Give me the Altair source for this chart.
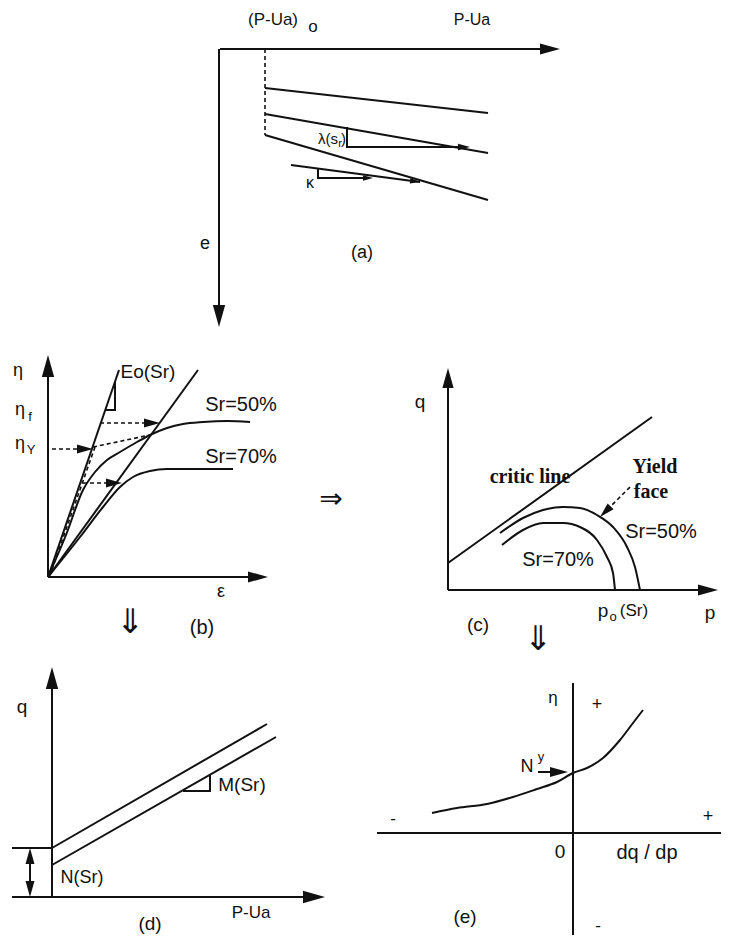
import altair as alt
import pandas as pd

# ---------------- geometry of the schematic (reference pixel units) ----------------
# Panel (a): void ratio e vs (P-Ua)
a_x_axis = [(220, 49), (548, 49)]
a_y_axis = [(219, 49), (219, 314)]
a_preload = [(265, 49), (265, 135)]
a_line_top = [(265, 88), (488, 113)]
a_line_mid = [(265, 114), (488, 153)]
a_line_low = [(265, 135), (488, 200)]
a_kappa_line = [(291, 165), (420, 182)]
a_lambda_tri = [(347, 127), (347, 147), (462, 147)]
a_kappa_tri = [(318, 169), (318, 178), (368, 178)]

# Panel (b): eta vs strain
b_y_axis = [(48, 577), (48, 370)]
b_x_axis = [(48, 577), (256, 577)]
b_E0_line = [(48, 577), (119, 370)]
b_E0_tri = [(105, 410), (115, 410), (115, 382)]
b_second_line = [(48, 577), (198, 370)]
b_sr50 = [(48, 577), (66, 535), (83, 490), (95, 472), (107, 460), (120, 452), (137, 442),
          (150, 435), (167, 428), (183, 424), (203, 422), (227, 421), (250, 422)]
b_sr70 = [(48, 577), (80, 537), (103, 507), (120, 487), (133, 477), (150, 471),
          (167, 469), (190, 469), (233, 469)]
b_dash_etaY = [(52, 449), (86, 449)]
b_dash_tangent = [(93, 447), (150, 435)]
b_dash_etaf = [(100, 423), (153, 423)]
b_dash_low = [(83, 483), (116, 483)]
b_dash_E0 = [(95, 447), (50, 575)]

# Panel (c): yield surfaces in p-q plane
c_y_axis = [(448, 590), (448, 382)]
c_x_axis = [(448, 590), (704, 590)]
c_critic = [(448, 563), (652, 417)]
c_sr50 = [(500, 533), (523, 518), (543, 510), (563, 507), (580, 508), (597, 515),
          (613, 527), (627, 547), (635, 567), (640, 590)]
c_sr70 = [(502, 545), (523, 530), (543, 523), (563, 523), (580, 527), (597, 540),
          (607, 557), (613, 573), (615, 590)]
c_dash_yield = [(630, 487), (606, 511)]

# Panel (d): q vs (P-Ua)
d_y_axis = [(52, 897), (52, 683)]
d_x_axis = [(12, 897), (310, 897)]
d_top_tick = [(12, 848), (52, 848)]
d_line_up = [(52, 848), (267, 724)]
d_line_low = [(52, 865), (276, 737)]
d_M_tri = [(183, 791), (210, 791), (210, 775)]
d_double = [(30, 856), (30, 889)]

# Panel (e): eta vs dq/dp
e_y_axis = [(573, 683), (573, 935)]
e_x_axis = [(377, 833), (721, 833)]
e_curve = [(432, 813), (457, 808), (487, 804), (513, 797), (537, 789), (557, 782),
           (573, 773), (587, 768), (603, 758), (620, 740), (633, 723), (643, 710)]
e_Ny_arrow = [(538, 772), (560, 772)]

solid_lines = {
    "a_x": a_x_axis, "a_y": a_y_axis, "a_l1": a_line_top, "a_l2": a_line_mid, "a_l3": a_line_low,
    "a_k": a_kappa_line, "a_lt": a_lambda_tri, "a_kt": a_kappa_tri,
    "b_y": b_y_axis, "b_x": b_x_axis, "b_e0": b_E0_line, "b_tri": b_E0_tri, "b_l2": b_second_line,
    "c_y": c_y_axis, "c_x": c_x_axis, "c_cr": c_critic,
    "d_y": d_y_axis, "d_x": d_x_axis, "d_t": d_top_tick, "d_l1": d_line_up, "d_l2": d_line_low,
    "d_m": d_M_tri, "d_dbl": d_double,
    "e_y": e_y_axis, "e_x": e_x_axis, "e_ny": e_Ny_arrow,
}
curve_lines = {"b_50": b_sr50, "b_70": b_sr70, "c_50": c_sr50, "c_70": c_sr70, "e_c": e_curve}
dashed_lines = {"a_pre": a_preload, "b_dY": b_dash_etaY, "b_dt": b_dash_tangent,
                "b_df": b_dash_etaf, "b_dl": b_dash_low, "b_de": b_dash_E0, "c_dy": c_dash_yield}

# arrowheads: tip x, tip y, direction (deg, clockwise from right), length px
arrow_tip_x = [560, 219, 470, 373, 420, 48, 268, 93, 160, 122, 448, 718, 600, 52, 325, 30, 30, 568]
arrow_tip_y = [49, 327, 147, 178, 182, 355, 577, 449, 423, 483, 368, 590, 517, 667, 897, 848, 897, 772]
arrow_angle = [0, 90, 0, 0, 7, 270, 0, 0, 0, 0, 270, 0, 135, 270, 0, 270, 90, 0]
arrow_len = [20, 22, 12, 10, 10, 22, 20, 16, 16, 16, 20, 20, 15, 22, 22, 16, 16, 18]

# labels
sans_text = ["(P-Ua)", "o", "P-Ua", "e", "(a)", "λ(s", ")", "κ",
             "η", "η", "η", "Eo(Sr)", "Sr=50%", "Sr=70%", "ε", "(b)",
             "q", "Sr=50%", "Sr=70%", "p", "(Sr)", "p", "(c)",
             "q", "M(Sr)", "N(Sr)", "P-Ua", "(d)",
             "η", "+", "N", "-", "+", "0", "dq / dp", "(e)", "-"]
sans_x = [273, 313, 472, 205, 362, 338, 341, 310,
          18, 20, 20, 148, 241, 241, 221, 202,
          420, 661, 558, 603, 634, 710, 478,
          22, 242, 82, 251, 150,
          553, 597, 527, 393, 708, 560, 647, 465, 598]
sans_y = [20, 27, 20, 244, 253, 139, 139, 183,
          371, 410, 444, 372, 405, 457, 592, 628,
          402, 532, 560, 611, 611, 613, 625,
          707, 785, 878, 913, 924,
          698, 705, 767, 819, 817, 852, 853, 917, 926]
sans_size = [17, 17, 16, 18, 18, 15, 15, 16,
             18, 18, 18, 19, 20, 20, 18, 20,
             19, 20, 20, 19, 17, 19, 19,
             19, 19, 18, 17, 19,
             17, 18, 18, 17, 18, 19, 20, 19, 17]
sans_align = ["center", "center", "center", "center", "center", "right", "left", "center",
              "center", "center", "center", "center", "center", "center", "center", "center",
              "center", "center", "center", "center", "center", "center", "center",
              "center", "center", "center", "center", "center",
              "center", "center", "center", "center", "center", "center", "center", "center", "center"]

# flow arrows between panels
flow_text = ["⇓", "⇒", "⇓"]
flow_x = [130, 331, 538]
flow_y = [623, 500, 640]
flow_size = [34, 28, 34]

sub_text = ["f", "Y", "r", "o", "y"]
sub_x = [30, 31, 340, 613, 541]
sub_y = [417, 450, 144, 617, 757]
sub_size = [13, 13, 11, 13, 13]

serif_text = ["critic  line", "Yield", "face"]
serif_x = [530, 655, 651]
serif_y = [477, 467, 492]
serif_size = [20, 20, 20]


def lines_df(d):
    rows = []
    for k, pts in d.items():
        for i, (x, y) in enumerate(pts):
            rows.append({"id": k, "o": i, "x": x, "y": y})
    return pd.DataFrame(rows)


X = lambda: alt.X("x:Q", scale=alt.Scale(domain=[8, 721], nice=False, zero=False), axis=None)
Y = lambda: alt.Y("y:Q", scale=alt.Scale(domain=[8, 935], nice=False, zero=False, reverse=True), axis=None)

INK = "#111111"

solid = alt.Chart(lines_df(solid_lines)).mark_line(color=INK, strokeWidth=2).encode(
    x=X(), y=Y(), detail="id:N", order="o:Q")
curves = alt.Chart(lines_df(curve_lines)).mark_line(
    color=INK, strokeWidth=2, interpolate="monotone").encode(
    x=X(), y=Y(), detail="id:N", order="o:Q")
dashed = alt.Chart(lines_df(dashed_lines)).mark_line(
    color=INK, strokeWidth=1.6, strokeDash=[4, 3]).encode(
    x=X(), y=Y(), detail="id:N", order="o:Q")

arrow_df = pd.DataFrame({"x": arrow_tip_x, "y": arrow_tip_y, "angle": arrow_angle,
                         "size": [4 * L * L for L in arrow_len]})
arrows = alt.Chart(arrow_df).mark_point(
    shape="M0,0L-1,-0.28L-1,0.28Z", filled=True, color=INK, opacity=1, strokeWidth=0).encode(
    x=X(), y=Y(), angle=alt.Angle("angle:Q", scale=None), size=alt.Size("size:Q", scale=None))

sans_df = pd.DataFrame({"x": sans_x, "y": sans_y, "t": sans_text, "fs": sans_size, "al": sans_align})
sans_center = alt.Chart(sans_df[sans_df.al == "center"]).mark_text(
    font="Liberation Sans", color=INK, align="center", baseline="middle").encode(
    x=X(), y=Y(), text="t:N", size=alt.Size("fs:Q", scale=None))
sans_right = alt.Chart(sans_df[sans_df.al == "right"]).mark_text(
    font="Liberation Sans", color=INK, align="right", baseline="middle").encode(
    x=X(), y=Y(), text="t:N", size=alt.Size("fs:Q", scale=None))
sans_left = alt.Chart(sans_df[sans_df.al == "left"]).mark_text(
    font="Liberation Sans", color=INK, align="left", baseline="middle").encode(
    x=X(), y=Y(), text="t:N", size=alt.Size("fs:Q", scale=None))

flow_df = pd.DataFrame({"x": flow_x, "y": flow_y, "t": flow_text, "fs": flow_size})
flows = alt.Chart(flow_df).mark_text(
    font="DejaVu Sans", color=INK, align="center", baseline="middle").encode(
    x=X(), y=Y(), text="t:N", size=alt.Size("fs:Q", scale=None))

sub_df = pd.DataFrame({"x": sub_x, "y": sub_y, "t": sub_text, "fs": sub_size})
subs = alt.Chart(sub_df).mark_text(
    font="Liberation Sans", color=INK, align="center", baseline="middle").encode(
    x=X(), y=Y(), text="t:N", size=alt.Size("fs:Q", scale=None))

serif_df = pd.DataFrame({"x": serif_x, "y": serif_y, "t": serif_text, "fs": serif_size})
serif = alt.Chart(serif_df).mark_text(
    font="Liberation Serif", fontWeight="bold", color=INK, align="center", baseline="middle").encode(
    x=X(), y=Y(), text="t:N", size=alt.Size("fs:Q", scale=None))

chart = alt.layer(solid, curves, dashed, arrows, sans_center, sans_right, sans_left,
                  flows, subs, serif).properties(
    width=713, height=927, autosize=alt.AutoSizeParams(type="none"), padding=0,
    background="white").configure_view(stroke=None)

chart.save("out.html", embed_options={"renderer": "svg", "actions": False})
